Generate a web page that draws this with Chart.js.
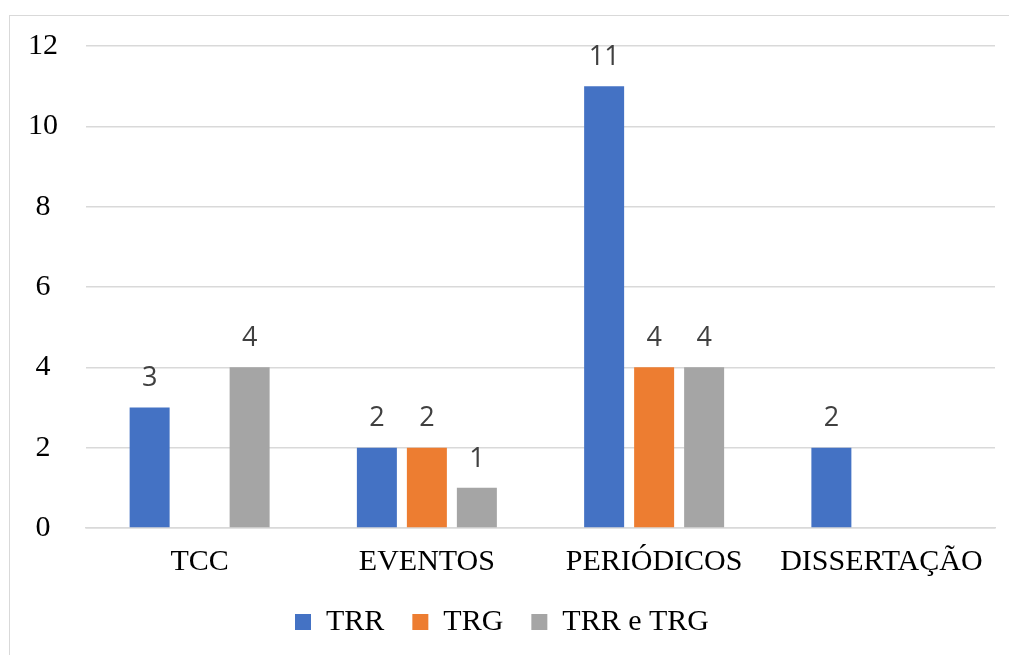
<!DOCTYPE html>
<html>
<head>
<meta charset="utf-8">
<script src="https://cdn.jsdelivr.net/npm/chart.js@4/dist/chart.umd.min.js"></script>
<style>
  html, body { margin: 0; padding: 0; background: #fff; }
  body { width: 1009px; height: 655px; position: relative; overflow: hidden; }
  .frame { position: absolute; left: 9px; top: 15px; width: 1010px; height: 700px; border: 1.5px solid #d9d9d9; box-sizing: border-box; }
  #chart { position: absolute; left: 0; top: 0; }
</style>
</head>
<body>
<div class="frame"></div>
<canvas id="chart" width="1009" height="655"></canvas>
<script>
const categories = ['TCC', 'EVENTOS', 'PERIÓDICOS', 'DISSERTAÇÃO'];
const trr = [3, 2, 11, 2];
const trg = [null, 2, 4, null];
const trrTrg = [4, 1, 4, null];
const yTicks = [0, 2, 4, 6, 8, 10, 12];

const serif = "'Liberation Serif', 'Times New Roman', serif";
const sans = "'Open Sans', 'Noto Sans', sans-serif";

// value labels above each bar
const barValues = {
    id: 'barValues',
    afterDatasetsDraw(chart) {
        const ctx = chart.ctx;
        ctx.save();
        ctx.font = '27px ' + sans;
        ctx.fillStyle = '#404040';
        ctx.textAlign = 'center';
        ctx.textBaseline = 'middle';
        chart.data.datasets.forEach((ds, i) => {
            chart.getDatasetMeta(i).data.forEach((bar, j) => {
                if (ds.data[j] == null) return;
                ctx.fillText(String(ds.data[j]), bar.x, bar.y - 29);
            });
        });
        ctx.restore();
    }
};

new Chart(document.getElementById('chart'), {
    type: 'bar',
    data: {
        labels: categories,
        datasets: [
            { label: 'TRR', data: trr, backgroundColor: '#4472C4' },
            { label: 'TRG', data: trg, backgroundColor: '#ED7D31' },
            { label: 'TRR e TRG', data: trrTrg, backgroundColor: '#A5A5A5' }
        ]
    },
    options: {
        responsive: false,
        animation: false,
        devicePixelRatio: 1,
        layout: { padding: { top: 45, left: 9, right: 14, bottom: 8 } },
        datasets: {
            bar: { categoryPercentage: 0.66, barPercentage: 0.8 }
        },
        scales: {
            x: {
                grid: { display: false },
                border: { color: '#d9d9d9', width: 1.5 },
                ticks: { color: '#000', font: { family: serif, size: 30 }, padding: 8, maxRotation: 0 },
                afterFit(scale) { scale.height = 51; }
            },
            y: {
                min: 0,
                max: 12,
                afterBuildTicks(scale) { scale.ticks = yTicks.map(v => ({ value: v })); },
                grid: { color: '#d9d9d9', lineWidth: 1.5, drawTicks: false },
                border: { display: false },
                ticks: { color: '#000', font: { family: serif, size: 30 }, padding: 28, crossAlign: 'center' },
                afterFit(scale) { scale.width = 77; }
            }
        },
        plugins: {
            tooltip: { enabled: false },
            legend: {
                position: 'bottom',
                labels: {
                    color: '#000',
                    font: { family: serif, size: 30 },
                    boxWidth: 16,
                    boxHeight: 16,
                    padding: 28
                }
            }
        }
    },
    plugins: [barValues]
});
</script>
</body>
</html>
